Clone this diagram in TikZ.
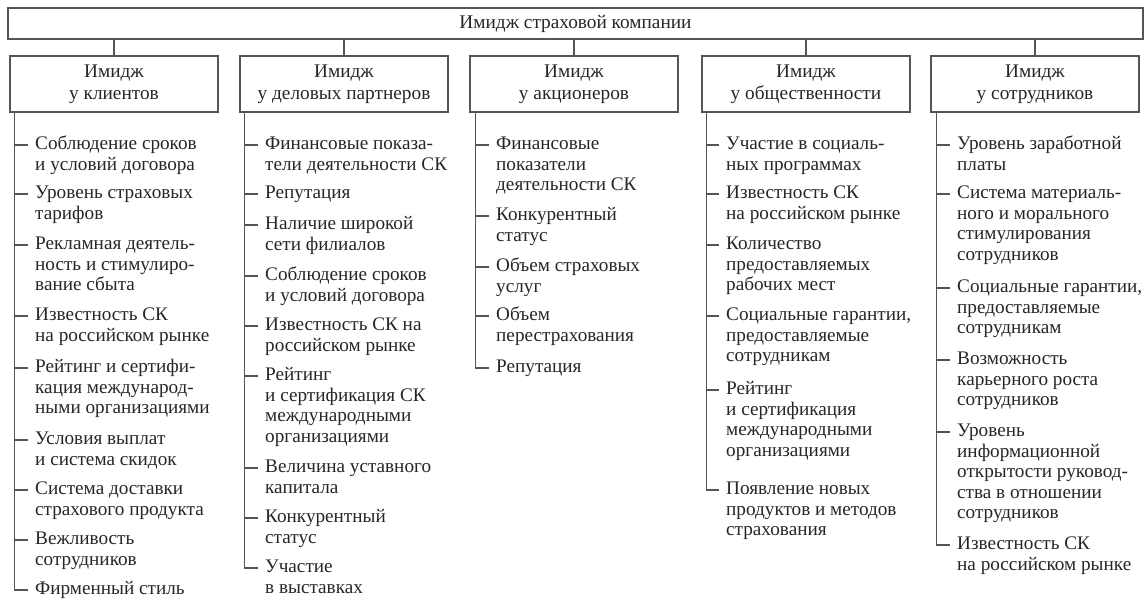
\documentclass[tikz,border=0pt]{standalone}
\usepackage{fontspec}
\setmainfont{Liberation Serif}
\definecolor{ink}{HTML}{262626}
\definecolor{rule}{HTML}{555555}
\tikzset{
  box/.style={draw=rule, line width=1.2pt, minimum width=208pt, minimum height=56pt, inner sep=0pt, align=center, text=ink, font=\fontsize{19.3}{22}\selectfont},
  topbox/.style={draw=rule, line width=1.2pt, minimum width=1135pt, minimum height=31pt, inner sep=0pt, text=ink, font=\fontsize{19.3}{22}\selectfont},
  itemtext/.style={anchor=north west, inner sep=0pt, align=left, text=ink, font=\fontsize{19.2}{20.5}\selectfont},
  link/.style={draw=rule, line width=1.2pt},
}
\newcommand\itm[4]{%
  \node[itemtext] (#1) at (#2+20, #3-10) {\strut #4};
  \draw[link] (#1.north west) ++(-20,10) -- ++(13,0);
}
\begin{document}
\begin{tikzpicture}[x=1pt,y=-1pt]
\useasboundingbox (0,0) rectangle (1144,607);
\node[topbox] (top) at (575.5,23.5) {Имидж страховой компании};
\node[box] (b1) at (114,84) {Имидж\\у клиентов};
\node[box] (b2) at (344,84) {Имидж\\у деловых партнеров};
\node[box] (b3) at (574,84) {Имидж\\у акционеров};
\node[box] (b4) at (806,84) {Имидж\\у общественности};
\node[box] (b5) at (1035,84) {Имидж\\у сотрудников};
\foreach \b in {b1,b2,b3,b4,b5}{\draw[link] (\b.north) -- (\b.north |- top.south);}
% column 1
\itm{a1}{15}{145}{Соблюдение сроков\\и условий договора}
\itm{a2}{15}{194}{Уровень страховых\\тарифов}
\itm{a3}{15}{245}{Рекламная деятель-\\ность и стимулиро-\\вание сбыта}
\itm{a4}{15}{316}{Известность СК\\на российском рынке}
\itm{a5}{15}{368}{Рейтинг и сертифи-\\кация международ-\\ными организациями}
\itm{a6}{15}{440}{Условия выплат\\и система скидок}
\itm{a7}{15}{490}{Система доставки\\страхового продукта}
\itm{a8}{15}{540}{Вежливость\\сотрудников}
\itm{a9}{15}{590}{Фирменный стиль}
\draw[link] (b1.south west) ++(5,0) |- ([xshift=-7pt,yshift=-10pt]a9.north west);
% column 2
\itm{c1}{245}{145}{Финансовые показа-\\тели деятельности СК}
\itm{c2}{245}{194}{Репутация}
\itm{c3}{245}{225}{Наличие широкой\\сети филиалов}
\itm{c4}{245}{276}{Соблюдение сроков\\и условий договора}
\itm{c5}{245}{326}{Известность СК на\\российском рынке}
\itm{c6}{245}{376}{Рейтинг\\и сертификация СК\\международными\\организациями}
\itm{c7}{245}{468}{Величина уставного\\капитала}
\itm{c8}{245}{518}{Конкурентный\\статус}
\itm{c9}{245}{568}{Участие\\в выставках}
\draw[link] (b2.south west) ++(5,0) |- ([xshift=-7pt,yshift=-10pt]c9.north west);
% column 3
\itm{d1}{476}{145}{Финансовые\\показатели\\деятельности СК}
\itm{d2}{476}{216}{Конкурентный\\статус}
\itm{d3}{476}{267}{Объем страховых\\услуг}
\itm{d4}{476}{316}{Объем\\перестрахования}
\itm{d5}{476}{368}{Репутация}
\draw[link] (b3.south west) ++(6,0) |- ([xshift=-7pt,yshift=-10pt]d5.north west);
% column 4
\itm{e1}{706}{145}{Участие в социаль-\\ных программах}
\itm{e2}{706}{194}{Известность СК\\на российском рынке}
\itm{e3}{706}{245}{Количество\\предоставляемых\\рабочих мест}
\itm{e4}{706}{316}{Социальные гарантии,\\предоставляемые\\сотрудникам}
\itm{e5}{706}{390}{Рейтинг\\и сертификация\\международными\\организациями}
\itm{e6}{706}{490}{Появление новых\\продуктов и методов\\страхования}
\draw[link] (b4.south west) ++(5,0) |- ([xshift=-7pt,yshift=-10pt]e6.north west);
% column 5
\itm{f1}{937}{145}{Уровень заработной\\платы}
\itm{f2}{937}{194}{Система материаль-\\ного и морального\\стимулирования\\сотрудников}
\itm{f3}{937}{288}{Социальные гарантии,\\предоставляемые\\сотрудникам}
\itm{f4}{937}{360}{Возможность\\карьерного роста\\сотрудников}
\itm{f5}{937}{432}{Уровень\\информационной\\открытости руковод-\\ства в отношении\\сотрудников}
\itm{f6}{937}{545}{Известность СК\\на российском рынке}
\draw[link] (b5.south west) ++(6,0) |- ([xshift=-7pt,yshift=-10pt]f6.north west);
\end{tikzpicture}
\end{document}
